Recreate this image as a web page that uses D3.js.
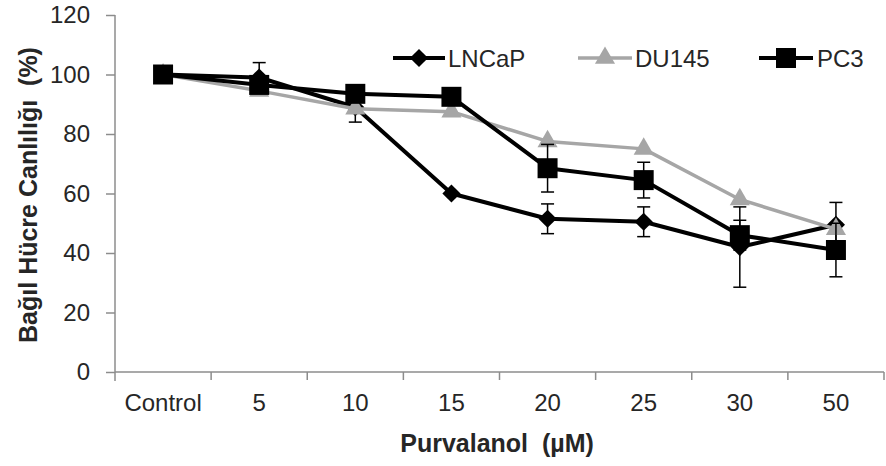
<!DOCTYPE html>
<html><head><meta charset="utf-8">
<script src="https://cdn.jsdelivr.net/npm/d3@7"></script>
<style>
html,body{margin:0;padding:0;background:#fff;}
text{font-family:"Liberation Sans",Arial,sans-serif;white-space:pre;}
</style></head>
<body><svg id="chart" width="886" height="466"></svg>
<script>
const categories = ["Control","5","10","15","20","25","30","50"];
const lncap = [100, 99, 89, 60, 51.5, 50.5, 42, 49.5];
const lncapErr = [0, 5, 5, 0, 5, 5, 13.5, 7.5];
const du145 = [100, 94.5, 88.5, 87.5, 77.5, 75, 58, 48];
const du145Err = [0, 0, 0, 0, 0, 0, 0, 0];
const pc3 = [100, 96.5, 93.5, 92.5, 68.5, 64.5, 46, 41];
const pc3Err = [0, 0, 0, 0, 8, 6, 5, 9];
const yTicks = [0, 20, 40, 60, 80, 100, 120];
const seriesNames = ["LNCaP", "DU145", "PC3"];

const svg = d3.select("#chart");
const L = 115, R = 884, T = 15, B = 372;
const x = d3.scaleBand().domain(categories).range([L, R]).padding(0);
const y = d3.scaleLinear().domain([0, 120]).range([B, T]);
const axisColor = "#8c8c8c", textColor = "#262626";

// Y axis
const ya = svg.append("g").attr("transform", `translate(${L},0)`)
  .call(d3.axisLeft(y).tickValues(yTicks).tickSize(9).tickPadding(16).tickFormat(d3.format("d")));
ya.select(".domain").attr("stroke", axisColor).attr("stroke-width", 1.5).attr("d", `M0,${T}V${B+9}`);
ya.selectAll(".tick line").attr("stroke", axisColor).attr("stroke-width", 1.5);
ya.selectAll(".tick text").attr("font-size", 24).attr("fill", textColor).attr("font-family", "Liberation Sans, Arial");

// X axis
const xa = svg.append("g").attr("transform", `translate(0,${B})`)
  .call(d3.axisBottom(x).tickSize(0).tickPadding(22));
xa.select(".domain").attr("stroke", axisColor).attr("stroke-width", 1.5).attr("d", `M${L},0H${R}`);
xa.selectAll(".tick text").attr("font-size", 24).attr("fill", textColor).attr("font-family", "Liberation Sans, Arial");
xa.selectAll(".bnd").data(categories).enter().append("line")
  .attr("x1", d => x(d) + x.bandwidth()).attr("x2", d => x(d) + x.bandwidth())
  .attr("y1", 0).attr("y2", 8).attr("stroke", axisColor).attr("stroke-width", 1.5);

// Axis titles
svg.append("text").attr("x", 497).attr("y", 452).attr("text-anchor", "middle")
  .attr("font-size", 25).attr("font-weight", "bold").attr("fill", textColor)
  .text("Purvalanol  (µM)");
svg.append("text").attr("transform", "translate(37,195) rotate(-90)").attr("text-anchor", "middle")
  .attr("font-size", 25).attr("font-weight", "bold").attr("fill", textColor)
  .text("Bağıl Hücre Canlılığı  (%)");

const cx = d => x(d) + x.bandwidth() / 2;
const series = [
  {name: "LNCaP", vals: lncap, err: lncapErr, color: "#000", width: 4, sym: d3.symbolSquare, size: 165, rot: 45},
  {name: "DU145", vals: du145, err: du145Err, color: "#a6a6a6", width: 3.5, sym: d3.symbolTriangle, size: 175, rot: 0},
  {name: "PC3", vals: pc3, err: pc3Err, color: "#000", width: 4, sym: d3.symbolSquare, size: 400, rot: 0}
];

series.forEach(s => {
  const g = svg.append("g");
  const line = d3.line().x((v, i) => cx(categories[i])).y(v => y(v));
  g.append("path").attr("d", line(s.vals)).attr("fill", "none").attr("stroke", s.color)
    .attr("stroke-width", s.width).attr("stroke-linejoin", "round");
  // error bars
  s.vals.forEach((v, i) => {
    const e = s.err[i];
    if (!e) return;
    const X = cx(categories[i]);
    g.append("line").attr("x1", X).attr("x2", X).attr("y1", y(v - e)).attr("y2", y(v + e)).attr("stroke", "#000").attr("stroke-width", 1.5);
    [v - e, v + e].forEach(w => g.append("line").attr("x1", X - 6.5).attr("x2", X + 6.5).attr("y1", y(w)).attr("y2", y(w)).attr("stroke", "#000").attr("stroke-width", 1.5));
  });
  const sym = d3.symbol().type(s.sym).size(s.size);
  s.vals.forEach((v, i) => {
    g.append("path").attr("d", sym()).attr("fill", s.color)
      .attr("transform", `translate(${cx(categories[i])},${y(v)}) rotate(${s.rot})`);
  });
});

// Legend
const legend = [
  {s: series[0], x1: 393, x2: 445, tx: 448},
  {s: series[1], x1: 578, x2: 632, tx: 635},
  {s: series[2], x1: 759, x2: 813, tx: 817}
];
legend.forEach(l => {
  const ly = 58;
  svg.append("line").attr("x1", l.x1).attr("x2", l.x2).attr("y1", ly).attr("y2", ly)
    .attr("stroke", l.s.color).attr("stroke-width", l.s.width);
  svg.append("path").attr("d", d3.symbol().type(l.s.sym).size(l.s.size)()).attr("fill", l.s.color)
    .attr("transform", `translate(${(l.x1 + l.x2) / 2},${ly}) rotate(${l.s.rot})`);
  svg.append("text").attr("x", l.tx).attr("y", ly + 8.5).attr("font-size", 24).attr("fill", textColor)
    .text(l.s.name);
});
</script></body></html>
